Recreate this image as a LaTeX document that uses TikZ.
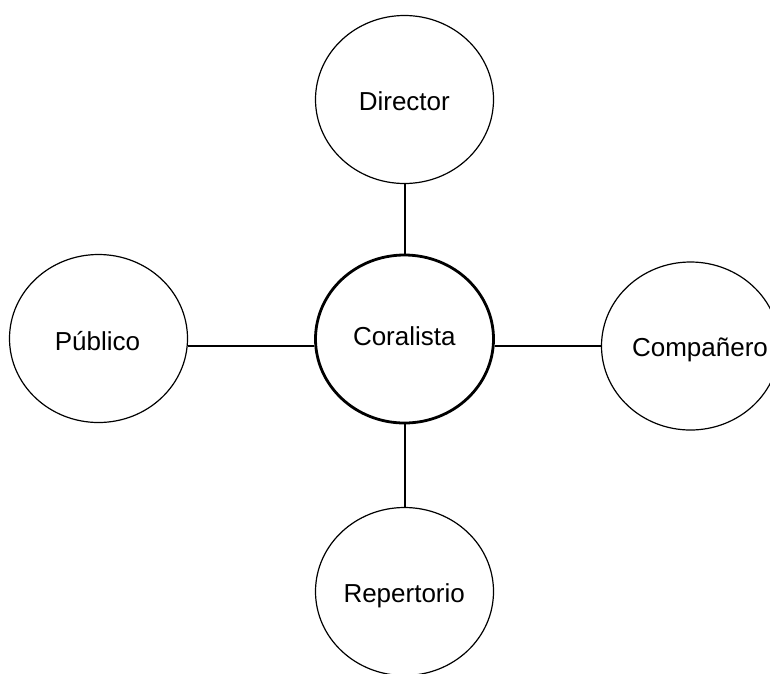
\documentclass[tikz,border=0pt]{standalone}
\usepackage{fontspec}
\setmainfont{Liberation Sans}
\usetikzlibrary{shapes.geometric}
\begin{document}
\begin{tikzpicture}[x=1pt,y=-1pt,
  circ/.style={ellipse,draw,line width=1.2pt,minimum width=178pt,minimum height=168pt,inner sep=0pt},
  maincirc/.style={circ,line width=2.8pt},
  lbl/.style={anchor=base,inner sep=0pt,font=\fontsize{26}{30}\selectfont},
  link/.style={line width=1.2pt}]
\useasboundingbox (0,0) rectangle (770,673);
\clip (0,0) rectangle (770,673);
\node[circ] (dir) at (404.5,99.5) {};
\node[maincirc] (cor) at (404.5,339) {};
\node[circ] (pub) at (98.5,338.5) {};
\node[circ] (com) at (690.5,346) {};
\node[circ] (rep) at (404.5,591.5) {};
\coordinate (hl) at (0,346);
\coordinate (vl) at (405,0);
\draw[link] (dir.south -| vl) -- (cor.north -| vl);
\draw[link] (cor.south -| vl) -- (rep.north -| vl);
\draw[link] (pub.east |- hl) -- (cor.west |- hl);
\draw[link] (cor.east |- hl) -- (com.west |- hl);
\node[lbl] (tdir) at (404.3,110.7) {Director};
\node[lbl] (tcor) at (404.3,345) {Coralista};
\node[lbl] (tpub) at (97.5,350) {Público};
\node[lbl] (tcom) at (700,356.7) {Compañero};
\node[lbl] (trep) at (404.2,602.7) {Repertorio};
\end{tikzpicture}
\end{document}
